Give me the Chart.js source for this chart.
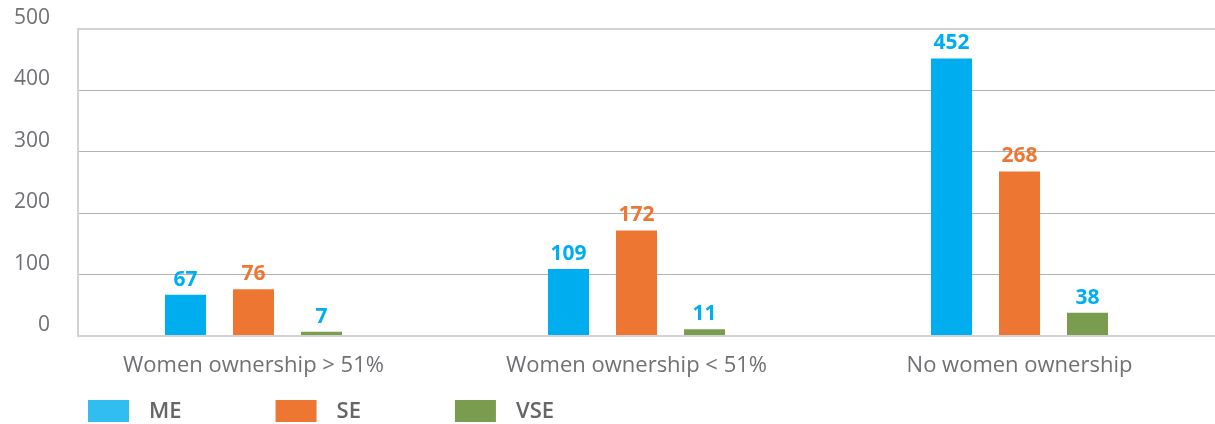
<!DOCTYPE html>
<html>
<head>
<meta charset="utf-8">
<script src="https://cdn.jsdelivr.net/npm/chart.js@4/dist/chart.umd.min.js"></script>
<style>
  html, body { margin: 0; padding: 0; background: #ffffff; }
  #wrap { width: 1215px; height: 424px; }
</style>
</head>
<body>
<div id="wrap"><canvas id="chart" width="1215" height="424"></canvas></div>
<script>
// Enterprises by women ownership and enterprise size
const categories = ['Women ownership > 51%', 'Women ownership < 51%', 'No women ownership'];
const seriesNames = ['ME', 'SE', 'VSE'];
const meValues = [67, 109, 452];
const seValues = [76, 172, 268];
const vseValues = [7, 11, 38];
const yTickValues = [0, 100, 200, 300, 400, 500];

const barColors = ['#00AEEF', '#ED7633', '#7A9C4E'];
const legendColors = ['#31BDF0', '#ED7633', '#7A9C4E'];
const valueLabelColors = ['#00AEEF', '#ED7633', '#00AEEF'];
const FONT = "'Open Sans', 'Noto Sans', sans-serif";

const toPoints = vals => vals.map((v, i) => ({ x: i, y: v }));

// Value labels above every bar
const valueLabels = {
  id: 'valueLabels',
  afterDatasetsDraw(chart) {
    const ctx = chart.ctx;
    ctx.save();
    ctx.font = `700 21px ${FONT}`;
    ctx.textAlign = 'center';
    ctx.textBaseline = 'alphabetic';
    chart.data.datasets.forEach((ds, di) => {
      const meta = chart.getDatasetMeta(di);
      ctx.fillStyle = valueLabelColors[di];
      meta.data.forEach((bar, i) => {
        ctx.fillText(String(ds.data[i].y), bar.x, bar.y - 9);
      });
    });
    ctx.restore();
  }
};

// Legend row along the bottom edge
const bottomLegend = {
  id: 'bottomLegend',
  afterDraw(chart) {
    const ctx = chart.ctx;
    ctx.save();
    ctx.font = `600 22px ${FONT}`;
    ctx.textBaseline = 'middle';
    ctx.textAlign = 'left';
    let x = 88;
    const top = 400, boxW = 41, boxH = 22, gap = 20, spacing = 94;
    chart.data.datasets.forEach((ds, di) => {
      ctx.fillStyle = legendColors[di];
      ctx.fillRect(x, top, boxW, boxH);
      ctx.fillStyle = '#666666';
      const tx = x + boxW + gap;
      ctx.fillText(ds.label, tx, top + boxH / 2 + 1);
      x = tx + ctx.measureText(ds.label).width + spacing;
    });
    ctx.restore();
  }
};

const edgeLine = '#d2d2d2';
const innerLine = '#b2b2b2';

new Chart(document.getElementById('chart'), {
  type: 'bar',
  data: {
    datasets: [
      { label: seriesNames[0], data: toPoints(meValues), backgroundColor: barColors[0] },
      { label: seriesNames[1], data: toPoints(seValues), backgroundColor: barColors[1] },
      { label: seriesNames[2], data: toPoints(vseValues), backgroundColor: barColors[2] }
    ]
  },
  options: {
    responsive: false,
    animation: false,
    categoryPercentage: 0.5326,
    barPercentage: 0.603,
    layout: { padding: { top: 29, right: 0, bottom: 0, left: 0 } },
    plugins: {
      legend: { display: false },
      tooltip: { enabled: false }
    },
    scales: {
      x: {
        type: 'linear',
        offset: false,
        bounds: 'data',
        min: -0.4582,
        max: 2.5104,
        afterBuildTicks(scale) {
          scale.ticks = categories.map((_, i) => ({ value: i }));
        },
        afterFit(scale) {
          scale.height = 88;
          scale.paddingLeft = 0;
          scale.paddingRight = 0;
        },
        grid: { display: false, drawTicks: false, offset: false },
        border: { display: false },
        ticks: {
          autoSkip: false,
          maxRotation: 0,
          padding: 17,
          color: '#707075',
          font: { family: FONT, size: 22 },
          callback: v => categories[v]
        }
      },
      y: {
        min: 0,
        max: 500,
        afterBuildTicks(scale) {
          scale.ticks = yTickValues.map(v => ({ value: v }));
        },
        afterFit(scale) {
          scale.width = 78;
          scale.paddingTop = 0;
          scale.paddingBottom = 0;
        },
        grid: {
          drawTicks: false,
          color: c => (c.tick && (c.tick.value === 0 || c.tick.value === 500)) ? edgeLine : innerLine,
          lineWidth: c => (c.tick && (c.tick.value === 0 || c.tick.value === 500)) ? 2 : 1
        },
        border: { display: true, color: edgeLine, width: 2 },
        ticks: {
          padding: 28,
          labelOffset: -11,
          color: '#707075',
          font: { family: FONT, size: 21 }
        }
      }
    }
  },
  plugins: [valueLabels, bottomLegend]
});
</script>
</body>
</html>
